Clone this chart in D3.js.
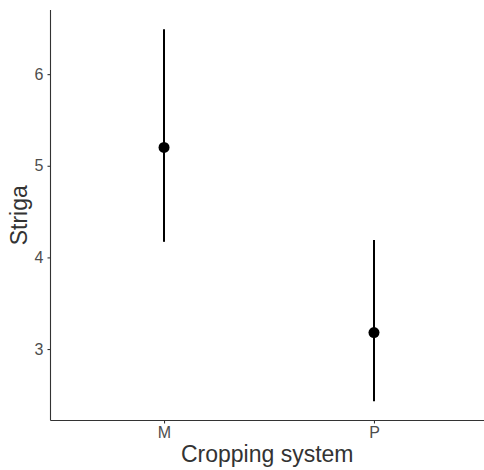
<!DOCTYPE html>
<html>
<head>
<script src="https://cdn.jsdelivr.net/npm/d3@7"></script>
<style>
  body { margin: 0; background: #fff; }
  text { font-family: "Liberation Sans", Arial, sans-serif; }
</style>
</head>
<body>
<script>
// values
var systems = ["M", "P"];
var means = [5.2, 3.18];
var lower = [4.17, 2.43];
var upper = [6.49, 4.19];
var yTicks = [3, 4, 5, 6];

var W = 484, H = 470;
var padL = 50.5, padR = 484, padT = 10, padB = 420.5;

var svg = d3.select("body").append("svg")
    .attr("width", W)
    .attr("height", H);

var x = d3.scalePoint()
    .domain(systems)
    .range([54, padR])
    .padding(0.524);

var y = d3.scaleLinear()
    .domain([2.22, 6.7])
    .range([padB, padT]);

// error bars
svg.selectAll("line.err")
    .data(systems)
    .enter().append("line")
    .attr("class", "err")
    .attr("x1", function(d) { return x(d); })
    .attr("x2", function(d) { return x(d); })
    .attr("y1", function(d, i) { return y(lower[i]); })
    .attr("y2", function(d, i) { return y(upper[i]); })
    .attr("stroke", "#000")
    .attr("stroke-width", 2);

// means
svg.selectAll("circle")
    .data(systems)
    .enter().append("circle")
    .attr("cx", function(d) { return x(d); })
    .attr("cy", function(d, i) { return y(means[i]); })
    .attr("r", 5.5)
    .attr("fill", "#000");

// axes
var yAxis = svg.append("g")
    .attr("transform", "translate(" + padL + ",0)")
    .call(d3.axisLeft(y).tickValues(yTicks).tickSize(3).tickPadding(4).tickFormat(d3.format("d")));

var xAxis = svg.append("g")
    .attr("transform", "translate(0," + padB + ")")
    .call(d3.axisBottom(x).tickSize(3).tickPadding(3));

[xAxis, yAxis].forEach(function(a) {
    a.select(".domain").attr("stroke", "#333").attr("stroke-width", 1.1);
    a.selectAll(".tick line").attr("stroke", "#333").attr("stroke-width", 1.1);
    a.selectAll(".tick text").attr("fill", "#4d4d4d").style("font-size", "16px");
});
// keep domain lines running the full panel
yAxis.select(".domain").attr("d", "M0," + padT + "V" + padB);
xAxis.select(".domain").attr("d", "M" + padL + ",0H" + padR);

// axis titles
svg.append("text")
    .attr("x", (padL + padR) / 2)
    .attr("y", 462)
    .attr("text-anchor", "middle")
    .attr("fill", "#333")
    .style("font-size", "23px")
    .text("Cropping system");

svg.append("text")
    .attr("transform", "translate(27," + ((padT + padB) / 2) + ") rotate(-90)")
    .attr("text-anchor", "middle")
    .attr("fill", "#333")
    .style("font-size", "23px")
    .text("Striga");
</script>
</body>
</html>
